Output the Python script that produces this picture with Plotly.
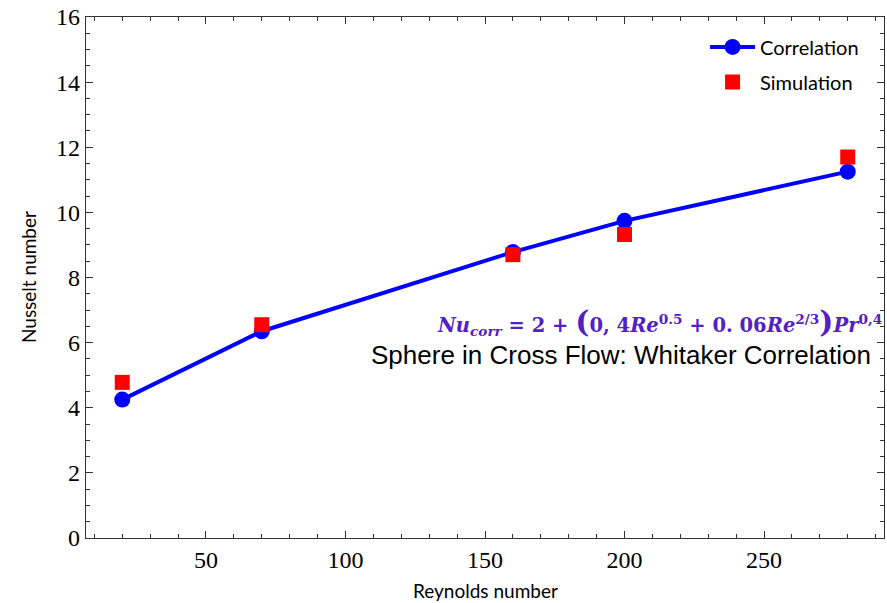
import plotly.graph_objects as go

reynolds = [20, 70, 160, 200, 280]
nu_correlation = [4.25, 6.35, 8.78, 9.74, 11.25]
nu_simulation = [4.78, 6.55, 8.70, 9.32, 11.70]

x_ticks = [50, 100, 150, 200, 250]
y_ticks = [0, 2, 4, 6, 8, 10, 12, 14, 16]

fig = go.Figure()
fig.add_trace(go.Scatter(
    x=reynolds, y=nu_correlation, mode="lines+markers", name="Correlation",
    legendgroup="a",
    line=dict(color="#0000ff", width=4),
    marker=dict(color="#0000ff", size=16, symbol="circle"),
))
fig.add_trace(go.Scatter(
    x=reynolds, y=nu_simulation, mode="markers", name="Simulation",
    legendgroup="b",
    marker=dict(color="#ff0000", size=15, symbol="square"),
))

axis_common = dict(
    showline=True, linecolor="#333333", linewidth=1.2, mirror="allticks",
    ticks="inside", ticklen=7, tickwidth=1.2, tickcolor="#333333",
    showgrid=False, zeroline=False, automargin=False,
    tickfont=dict(family="Liberation Serif", size=24, color="black"),
)

fig.update_xaxes(
    range=[7, 293], tickvals=x_ticks,
    minor=dict(ticks="inside", dtick=10, tick0=0, ticklen=4, tickwidth=1, tickcolor="#333333"),
    **axis_common,
)
fig.update_yaxes(
    range=[0, 16], tickvals=y_ticks,
    minor=dict(ticks="inside", dtick=0.5, tick0=0, ticklen=4, tickwidth=1, tickcolor="#333333"),
    **axis_common,
)

fig.add_annotation(
    x=0.5, y=-0.1, xref="paper", yref="paper", xanchor="center", yanchor="middle",
    text="Reynolds number", showarrow=False,
    font=dict(family="Lato", size=19, color="black"),
)
fig.add_annotation(
    x=-0.072, y=0.5, xref="paper", yref="paper", xanchor="center", yanchor="middle",
    text="Nusselt number", showarrow=False, textangle=-90,
    font=dict(family="Lato", size=19, color="black"),
)

formula = (
    "<b><i>Nu<sub>corr</sub></i> = 2 + <span style='font-size:30px'>(</span>0, 4<i>Re</i><sup>0.5</sup>"
    " + 0. 06<i>Re</i><sup>2/3</sup><span style='font-size:30px'>)</span><i>Pr</i><sup>0,4</sup></b>"
)
fig.add_annotation(
    x=1.0, y=0.415, xref="paper", yref="paper", xanchor="right", yanchor="middle",
    text=formula, showarrow=False,
    font=dict(family="DejaVu Serif", size=19.5, color="#5121C4"),
)
fig.add_annotation(
    x=0.986, y=0.352, xref="paper", yref="paper", xanchor="right", yanchor="middle",
    text="Sphere in Cross Flow: Whitaker Correlation", showarrow=False,
    font=dict(family="Liberation Sans", size=26, color="black"),
)

fig.update_layout(
    width=887, height=603,
    margin=dict(l=86, r=3, t=17, b=65),
    plot_bgcolor="white", paper_bgcolor="white",
    legend=dict(
        x=0.975, y=0.98, xanchor="right", yanchor="top",
        font=dict(family="Lato", size=20, color="black"),
        bgcolor="rgba(0,0,0,0)", itemwidth=45, tracegroupgap=6,
    ),
)

fig.write_html("out.html", config={"displayModeBar": False},
               post_script="document.body.style.margin='0px';")
